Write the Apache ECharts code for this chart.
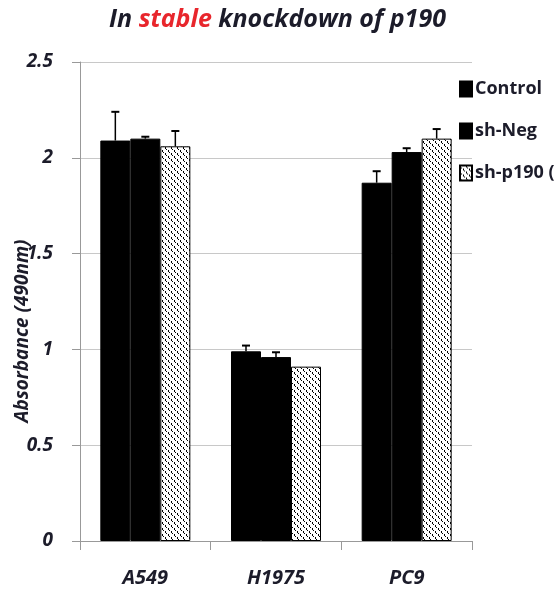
<!DOCTYPE html>
<html>
<head>
<meta charset="utf-8">
<script src="https://cdn.jsdelivr.net/npm/echarts@6/dist/echarts.min.js"></script>
<style>
  html, body { margin: 0; padding: 0; background: #fff; }
  #chart { width: 555px; height: 594px; }
</style>
</head>
<body>
<div id="chart"></div>
<script>
  // cell lines and absorbance (490nm)
  var categories = ['A549', 'H1975', 'PC9'];
  var seriesNames = ['Control', 'sh-Neg', 'sh-p190 (1)'];
  var controlVals = [2.09, 0.99, 1.87];
  var shNegVals = [2.10, 0.96, 2.03];
  var shP190Vals = [2.06, 0.91, 2.10];
  // upper error (sd)
  var controlErr = [0.15, 0.03, 0.06];
  var shNegErr = [0.01, 0.025, 0.02];
  var shP190Err = [0.08, 0.0, 0.05];
  var yTicks = [0, 0.5, 1, 1.5, 2, 2.5];

  var chart = echarts.init(document.getElementById('chart'));

  // dotted / wavy fill of sh-p190 bars
  function makePattern() {
    var c = document.createElement('canvas');
    c.width = 6; c.height = 6;
    var ctx = c.getContext('2d');
    ctx.fillStyle = '#fff';
    ctx.fillRect(0, 0, 6, 6);
    ctx.fillStyle = '#000';
    ctx.fillRect(0, 0, 1, 2);
    ctx.fillRect(1, 2, 1, 1);
    ctx.fillRect(3, 3, 1, 2);
    ctx.fillRect(4, 5, 1, 1);
    return c;
  }
  var pattern = { image: makePattern(), repeat: 'repeat' };

  var barW = 30;
  var font = 'Open Sans';
  var ink = '#1c1c2a';

  function errSeries(vals, errs, idx) {
    var data = vals.map(function (v, i) { return [i, v, v + errs[i]]; });
    return {
      type: 'custom',
      z: 5,
      silent: true,
      renderItem: function (params, api) {
        var base = api.coord([api.value(0), api.value(1)]);
        var top = api.coord([api.value(0), api.value(2)]);
        var x = base[0] + (idx - 1) * barW;
        if (Math.abs(base[1] - top[1]) < 1) return null;
        return {
          type: 'group',
          children: [
            { type: 'line', shape: { x1: x, y1: base[1], x2: x, y2: top[1] }, style: { stroke: '#000', lineWidth: 1.5 } },
            { type: 'line', shape: { x1: x - 4, y1: top[1], x2: x + 4, y2: top[1] }, style: { stroke: '#000', lineWidth: 2 } }
          ]
        };
      },
      data: data
    };
  }

  var option = {
    backgroundColor: '#fff',
    animation: false,
    title: {
      text: '{d|In }{r|stable}{d| knockdown of p190}',
      left: 'center',
      top: 2,
      textStyle: {
        rich: {
          d: { fontFamily: font, fontStyle: 'italic', fontWeight: 'bold', fontSize: 25, color: ink },
          r: { fontFamily: font, fontStyle: 'italic', fontWeight: 'bold', fontSize: 25, color: '#e8262c' }
        }
      }
    },
    legend: {
      orient: 'vertical',
      left: 454,
      top: 75,
      icon: 'rect',
      itemWidth: 12,
      itemHeight: 15,
      itemGap: 24,
      data: seriesNames,
      textStyle: { fontFamily: font, fontWeight: 'bold', fontSize: 18, color: ink, padding: [0, 0, 0, -2] }
    },
    grid: { left: 80, right: 83, top: 62, bottom: 53 },
    xAxis: {
      type: 'category',
      data: categories,
      axisLine: { lineStyle: { color: '#999', width: 1 } },
      axisTick: { show: true, length: 9, lineStyle: { color: '#999' } },
      axisLabel: { margin: 27, fontFamily: font, fontStyle: 'italic', fontWeight: 'bold', fontSize: 20, color: ink }
    },
    yAxis: {
      type: 'value',
      min: 0,
      max: 2.5,
      interval: 0.5,
      axisLine: { show: true, lineStyle: { color: '#999' } },
      axisTick: { show: true, inside: false, length: 8, lineStyle: { color: '#999' } },
      splitLine: { show: true, lineStyle: { color: '#c8c8c8' } },
      axisLabel: {
        margin: 27,
        fontFamily: font, fontStyle: 'italic', fontWeight: 'bold', fontSize: 19, color: ink,
        formatter: function (v) { return yTicks.indexOf(v) >= 0 ? String(v) : ''; }
      }
    },
    graphic: [{
      type: 'text',
      x: 23,
      y: 331,
      rotation: Math.PI / 2,
      style: {
        text: 'Absorbance (490nm)',
        fontFamily: font, fontStyle: 'italic', fontWeight: 'bold', fontSize: 19,
        fill: ink,
        align: 'center',
        verticalAlign: 'middle'
      }
    }],
    series: [
      { name: seriesNames[0], type: 'bar', barWidth: barW, barGap: '0%', data: controlVals,
        itemStyle: { color: '#000', borderColor: '#000', borderWidth: 1 } },
      { name: seriesNames[1], type: 'bar', barWidth: barW, barGap: '0%', data: shNegVals,
        itemStyle: { color: '#000', borderColor: '#000', borderWidth: 1 } },
      { name: seriesNames[2], type: 'bar', barWidth: barW, barGap: '0%', data: shP190Vals,
        itemStyle: { color: pattern, borderColor: '#000', borderWidth: 1 } },
      errSeries(controlVals, controlErr, 0),
      errSeries(shNegVals, shNegErr, 1),
      errSeries(shP190Vals, shP190Err, 2)
    ]
  };

  chart.setOption(option);
</script>
</body>
</html>
